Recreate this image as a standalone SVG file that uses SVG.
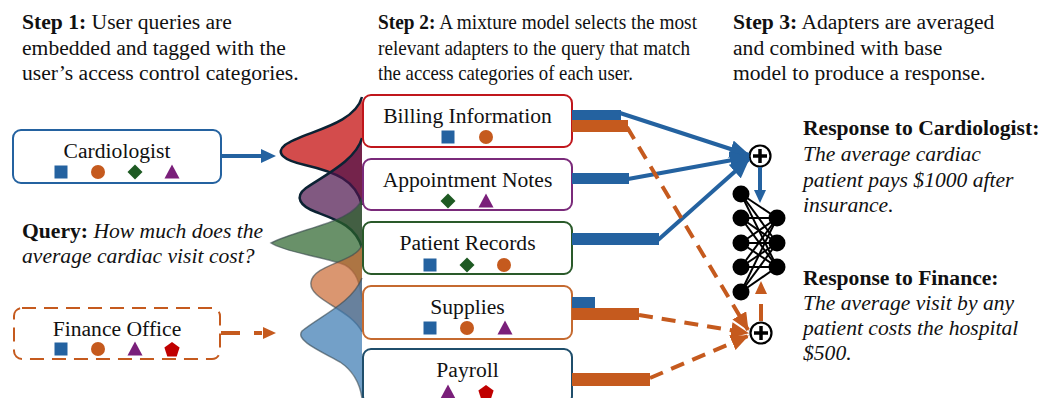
<svg xmlns="http://www.w3.org/2000/svg" width="1041" height="398" viewBox="0 0 1041 398">
<defs>
<style>
text{font-family:"Liberation Serif","Times New Roman",serif;font-size:21.6px;fill:#111}
.s2{font-size:20.6px}
.b{font-weight:bold}
.i{font-style:italic}
.c{text-anchor:middle}
.box{fill:#fff;stroke-width:2}
.blue{fill:#2462a0}
.orange{fill:#c55a1e}
.green{fill:#1e5a23}
.purple{fill:#7a1f7a}
.red{fill:#c00000}
.bl{stroke:#2462a0;stroke-width:4;fill:none}
.ol{stroke:#c55a1e;stroke-width:4;fill:none;stroke-dasharray:14 9}
.nn line{stroke:#000;stroke-width:2}
.nn circle{fill:#000}
.plus circle{fill:#fff;stroke:#000;stroke-width:2.2}
.plus path{stroke:#000;stroke-width:3.5;fill:none}
</style>
<marker id="ab" markerUnits="userSpaceOnUse" markerWidth="22" markerHeight="18" refX="19" refY="9" orient="auto"><path d="M0,0 L20,9 L0,18 z" fill="#2462a0"/></marker>
<marker id="ao" markerUnits="userSpaceOnUse" markerWidth="20" markerHeight="16" refX="17" refY="8" orient="auto"><path d="M0,0 L18,8 L0,16 z" fill="#c55a1e"/></marker>
<rect id="sq" x="-6.5" y="-6.5" width="13" height="13"/>
<circle id="ci" r="7"/>
<path id="di" d="M0,-7.5 L7.5,0 L0,7.5 L-7.5,0 z"/>
<path id="tr" d="M0,-7.5 L7.5,6.5 L-7.5,6.5 z"/>
<path id="pe" d="M0,-8 L7.6,-2.5 L4.7,6.5 L-4.7,6.5 L-7.6,-2.5 z"/>
</defs>
<rect width="1041" height="398" fill="#fff"/>

<g id="step1">
<text x="22" y="29"><tspan class="b">Step 1:</tspan> User queries are</text>
<text x="22" y="55">embedded and tagged with the</text>
<text x="22" y="80">user’s access control categories.</text>
</g>
<g id="step2">
<text class="s2" x="378" y="29" textLength="319" lengthAdjust="spacingAndGlyphs"><tspan class="b">Step 2:</tspan> A mixture model selects the most</text>
<text class="s2" x="378" y="55" textLength="312" lengthAdjust="spacingAndGlyphs">relevant adapters to the query that match</text>
<text class="s2" x="378" y="80" textLength="255" lengthAdjust="spacingAndGlyphs">the access categories of each user.</text>
</g>
<g id="step3">
<text x="733" y="29"><tspan class="b">Step 3:</tspan> Adapters are averaged</text>
<text x="733" y="55">and combined with base</text>
<text x="733" y="80">model to produce a response.</text>
</g>

<g id="query">
<text x="22" y="238"><tspan class="b">Query:</tspan> <tspan class="i">How much does the</tspan></text>
<text x="22" y="263" class="i">average cardiac visit cost?</text>
</g>

<g id="cardiologist">
<rect class="box" x="13" y="130" width="208" height="53" rx="8" stroke="#2462a0"/>
<text class="c" x="117" y="158">Cardiologist</text>
<use href="#sq" x="61" y="172" class="blue"/>
<use href="#ci" x="98" y="172" class="orange"/>
<use href="#di" x="135" y="172" class="green"/>
<use href="#tr" x="172" y="172" class="purple"/>
</g>

<g id="finance">
<rect class="box" x="14" y="308" width="206" height="51" rx="8" stroke="#c55a1e" stroke-dasharray="14 8" stroke-width="2.5"/>
<text class="c" x="117" y="336">Finance Office</text>
<use href="#sq" x="61" y="349" class="blue"/>
<use href="#ci" x="98" y="349" class="orange"/>
<use href="#tr" x="135" y="349" class="purple"/>
<use href="#pe" x="172" y="350" class="red"/>
</g>

<g id="distributions">
<path d="M362,97 C354,126 302,132 285,145 C275,153 283,160 305,165 C335,172 356,180 362,205" fill="#c00000" fill-opacity="0.7" stroke="#0b2233" stroke-width="2.5"/>
<path d="M362,138 C356,160 325,175 306,188 C294,197 300,206 316,212 C337,220 356,226 362,248" fill="#4c134c" fill-opacity="0.7" stroke="#0b2233" stroke-width="2.5"/>
<path d="M362,198 C356,222 300,228 271,243 C284,252 328,258 345,265 C356,271 360,282 362,302" fill="#296229" fill-opacity="0.7" stroke="#3a4a50" stroke-opacity="0.6" stroke-width="1.5"/>
<path d="M362,245 C356,262 314,264 311,282 C308,300 350,308 362,332" fill="#ca6933" fill-opacity="0.7" stroke="#3a4a50" stroke-opacity="0.6" stroke-width="1.5"/>
<path d="M362,278 C352,303 320,316 302,331 C295,340 318,350 340,362 C355,372 360,385 362,398" fill="#3777b0" fill-opacity="0.7" stroke="#3a4a50" stroke-opacity="0.6" stroke-width="1.5"/>
</g>

<g id="billing">
<rect class="box" x="363" y="95" width="209" height="52" rx="8" stroke="#c0161c"/>
<text class="c" x="467.5" y="123">Billing Information</text>
<use href="#sq" x="448" y="137" class="blue"/>
<use href="#ci" x="486" y="137" class="orange"/>
</g>
<g id="appointment">
<rect class="box" x="363" y="159" width="209" height="51" rx="8" stroke="#7a2a7a"/>
<text class="c" x="467.5" y="187">Appointment Notes</text>
<use href="#di" x="448" y="201" class="green"/>
<use href="#tr" x="486" y="201" class="purple"/>
</g>
<g id="patient">
<rect class="box" x="363" y="222" width="209" height="52" rx="8" stroke="#2a5a2a"/>
<text class="c" x="467.5" y="250">Patient Records</text>
<use href="#sq" x="430" y="265" class="blue"/>
<use href="#di" x="467" y="265" class="green"/>
<use href="#ci" x="504" y="265" class="orange"/>
</g>
<g id="supplies">
<rect class="box" x="363" y="286" width="209" height="53" rx="8" stroke="#c56a30"/>
<text class="c" x="467.5" y="314">Supplies</text>
<use href="#sq" x="430" y="328" class="blue"/>
<use href="#ci" x="467" y="328" class="orange"/>
<use href="#tr" x="505" y="328" class="purple"/>
</g>
<g id="payroll">
<rect class="box" x="363" y="349" width="209" height="55" rx="8" stroke="#1f4e6b"/>
<text class="c" x="467.5" y="377">Payroll</text>
<use href="#tr" x="448" y="392" class="purple"/>
<use href="#pe" x="486" y="393" class="red"/>
</g>

<g id="bars">
<rect x="572" y="110" width="49" height="10" class="blue"/>
<rect x="572" y="120" width="56" height="12" class="orange"/>
<rect x="572" y="173" width="57" height="11" class="blue"/>
<rect x="572" y="233" width="87" height="12" class="blue"/>
<rect x="572" y="297" width="23" height="11" class="blue"/>
<rect x="572" y="308" width="67" height="12" class="orange"/>
<rect x="572" y="373" width="78" height="13" class="orange"/>
</g>

<g id="plus-top" class="plus">
<circle cx="760" cy="156" r="10.5"/>
<path d="M753,156 H767 M760,149 V163"/>
</g>
<g id="plus-bottom" class="plus">
<circle cx="761" cy="333" r="10.5"/>
<path d="M754,333 H768 M761,326 V340"/>
</g>

<g id="network" class="nn">
<line x1="741" y1="194" x2="777" y2="218"/><line x1="741" y1="194" x2="777" y2="243"/><line x1="741" y1="194" x2="777" y2="267"/>
<line x1="741" y1="218" x2="777" y2="218"/><line x1="741" y1="218" x2="777" y2="243"/><line x1="741" y1="218" x2="777" y2="267"/>
<line x1="741" y1="243" x2="777" y2="218"/><line x1="741" y1="243" x2="777" y2="243"/><line x1="741" y1="243" x2="777" y2="267"/>
<line x1="741" y1="267" x2="777" y2="218"/><line x1="741" y1="267" x2="777" y2="243"/><line x1="741" y1="267" x2="777" y2="267"/>
<line x1="741" y1="292" x2="777" y2="218"/><line x1="741" y1="292" x2="777" y2="243"/><line x1="741" y1="292" x2="777" y2="267"/>
<circle cx="741" cy="194" r="8.5"/><circle cx="741" cy="218" r="8.5"/><circle cx="741" cy="243" r="8.5"/><circle cx="741" cy="267" r="8.5"/><circle cx="741" cy="292" r="8.5"/>
<circle cx="777" cy="218" r="8.5"/><circle cx="777" cy="243" r="8.5"/><circle cx="777" cy="267" r="8.5"/>
</g>

<g id="connectors">
<line class="bl" x1="221" y1="156" x2="262" y2="156"/>
<path d="M261,149 L276,156 L261,163 z" fill="#2462a0"/>
<line x1="221" y1="333" x2="262" y2="333" stroke="#c55a1e" stroke-width="4" stroke-dasharray="19 14"/>
<path d="M263,327 L276,333 L263,339 z" fill="#c55a1e"/>
<line class="bl" x1="620" y1="113" x2="749" y2="155" marker-end="url(#ab)"/>
<line class="bl" x1="628" y1="179" x2="749" y2="157" marker-end="url(#ab)"/>
<line class="bl" x1="658" y1="240" x2="749" y2="159" marker-end="url(#ab)"/>
<line class="bl" x1="760" y1="167" x2="760" y2="192"/>
<path d="M754,190 L766,190 L760,203 z" fill="#2462a0"/>
<line class="ol" x1="627" y1="127" x2="748" y2="330" marker-end="url(#ao)"/>
<line class="ol" x1="639" y1="315" x2="748" y2="333" marker-end="url(#ao)"/>
<line class="ol" x1="650" y1="378" x2="748" y2="336" marker-end="url(#ao)"/>
<line x1="761" y1="321" x2="761" y2="304" stroke="#c55a1e" stroke-width="4"/>
<path d="M755,294 L767,294 L761,281 z" fill="#c55a1e"/>
</g>

<g id="responses">
<text x="803" y="135" class="b">Response to Cardiologist:</text>
<text x="803" y="161" class="i">The average cardiac</text>
<text x="803" y="187" class="i">patient pays $1000 after</text>
<text x="803" y="212" class="i">insurance.</text>
<text x="803" y="285" class="b">Response to Finance:</text>
<text x="803" y="310" class="i">The average visit by any</text>
<text x="803" y="335" class="i">patient costs the hospital</text>
<text x="803" y="360" class="i">$500.</text>
</g>
</svg>
